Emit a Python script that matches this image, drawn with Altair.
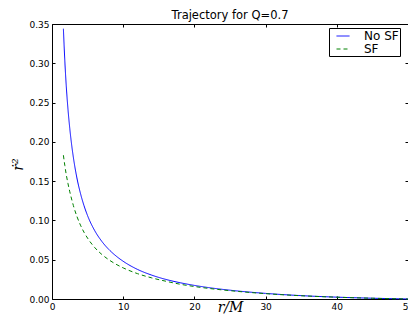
import altair as alt
import pandas as pd

r_vals = [1.6, 1.8, 2.0, 2.25, 2.5, 2.75, 3, 3.5, 4, 4.5, 5, 6, 7, 8, 9, 10,
          12, 14, 16, 18, 20, 22, 25, 30, 35, 40, 45, 50]
no_sf = [0.344, 0.3033, 0.2715, 0.2409, 0.2168, 0.1969, 0.1803, 0.1540, 0.1343,
         0.1187, 0.106, 0.087, 0.0733, 0.0629, 0.0547, 0.048, 0.0377, 0.0304,
         0.0249, 0.0207, 0.0173, 0.0145, 0.0112, 0.00713, 0.00429, 0.00235,
         0.0010, 0.0]
sf = [0.183, 0.170, 0.1585, 0.1467, 0.1364, 0.1273, 0.119, 0.1051, 0.094, 0.0849,
      0.0774, 0.0655, 0.0567, 0.0498, 0.0442, 0.0396, 0.0323, 0.0269, 0.0226,
      0.0188, 0.0159, 0.0135, 0.0106, 0.0068, 0.00414, 0.00228, 0.00096, 0.0]
series_names = ["No SF", "SF"]
x_ticks = [0, 10, 20, 30, 40, 50]
y_ticks = [0.0, 0.05, 0.10, 0.15, 0.20, 0.25, 0.30, 0.35]

rows = []
for name, vals in zip(series_names, [no_sf, sf]):
    for r, v in zip(r_vals, vals):
        rows.append({"r": r, "v": v, "series": name})
df = pd.DataFrame(rows)

FONT = "DejaVu Sans"
xscale = alt.Scale(domain=[0, 50], nice=False, zero=False)
yscale = alt.Scale(domain=[0, 0.35], nice=False)

main = alt.Chart(df).mark_line(strokeWidth=1, interpolate="monotone").encode(
    x=alt.X("r:Q", scale=xscale,
            axis=alt.Axis(orient="bottom", values=x_ticks, format="d", offset=-3,
                          tickSize=3, domain=False, grid=False, labelPadding=3,
                          labelFlush=False, labelFont=FONT, labelFontSize=9,
                          labelColor="black", tickColor="black",
                          title="r/M", titleFont="DejaVu Serif", titleFontStyle="italic",
                          titleFontWeight="normal", titleFontSize=14, titlePadding=0,
                          titleColor="black", titleY=18, titleBaseline="bottom")),
    y=alt.Y("v:Q", scale=yscale,
            axis=alt.Axis(orient="left", values=y_ticks, format=".2f", offset=-3,
                          tickSize=3, domain=False, grid=False, labelPadding=3,
                          labelFlush=False, labelFont=FONT, labelFontSize=9,
                          labelColor="black", tickColor="black",
                          title="ṙ²", titleFont="DejaVu Serif", titleFontStyle="italic",
                          titleFontWeight="normal", titleFontSize=14,
                          titleColor="black", titleAngle=270, titleX=-37, titleY=140,
                          titleAlign="center", titleBaseline="middle")),
    color=alt.Color("series:N",
                    scale=alt.Scale(domain=series_names, range=["#0000ff", "#008000"]),
                    legend=alt.Legend(title=None, orient="none", legendX=277, legendY=4,
                                      padding=1, strokeColor="black", fillColor="white",
                                      cornerRadius=0, symbolType="stroke", symbolSize=169,
                                      symbolStrokeWidth=1, symbolOffset=6, labelOffset=14,
                                      rowPadding=0, labelFont=FONT, labelFontSize=12,
                                      labelColor="black")),
    strokeDash=alt.StrokeDash("series:N",
                              scale=alt.Scale(domain=series_names, range=[[1, 0], [4, 3]]),
                              legend=None),
)

frame_axes = alt.Chart(df).mark_line(opacity=0).encode(
    x=alt.X("r:Q", scale=xscale,
            axis=alt.Axis(orient="top", values=x_ticks, offset=-3, tickSize=3,
                          domain=False, grid=False, labels=False, title=None,
                          tickColor="black")),
    y=alt.Y("v:Q", scale=yscale,
            axis=alt.Axis(orient="right", values=y_ticks, offset=-3, tickSize=3,
                          domain=False, grid=False, labels=False, title=None,
                          tickColor="black")),
    detail="series:N",
)

chart = alt.layer(main, frame_axes).resolve_axis(x="independent", y="independent").properties(
    width=356, height=275,
    title=alt.Title("Trajectory for Q=0.7", font=FONT, fontSize=11.5, fontWeight="normal",
                    color="black", anchor="middle", offset=2, dy=3, frame="group"),
    autosize=alt.AutoSizeParams(type="none"),
    padding={"left": 44, "top": 16, "right": 0, "bottom": 18},
).configure_view(stroke="black", strokeWidth=1)

chart.save("out.html", embed_options={"renderer": "svg", "actions": False})
